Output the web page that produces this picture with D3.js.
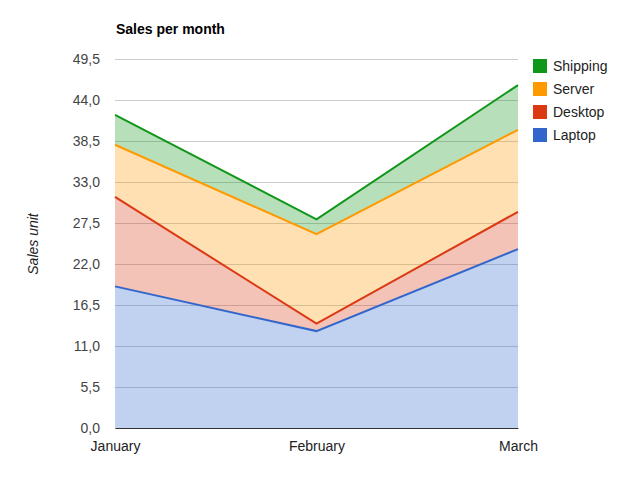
<!DOCTYPE html>
<html lang="en">
  <head>
    <meta charset="UTF-8" />
    <title>Sales per month</title>
    <style>
      body { margin: 0; background: #fff; }
      text { font-family: Arial, "Liberation Sans", sans-serif; }
    </style>
  </head>
  <body>
    <svg id="svg" width="630" height="479"></svg>

    <script src="https://cdn.jsdelivr.net/npm/d3@7"></script>
    <script>
      const months = ["January", "February", "March"];
      const laptop = [19, 13, 24];
      const desktop = [12, 1, 5];
      const server = [7, 12, 11];
      const shipping = [4, 2, 6];
      const seriesNames = ["Laptop", "Desktop", "Server", "Shipping"];
      const colors = ["#3366cc", "#dc3912", "#ff9900", "#109618"];
      const yTicks = [0, 5.5, 11, 16.5, 22, 27.5, 33, 38.5, 44, 49.5];

      const MARGIN = { top: 59, right: 112, bottom: 51, left: 115 };
      const WIDTH = 630 - MARGIN.left - MARGIN.right;
      const HEIGHT = 479 - MARGIN.top - MARGIN.bottom;

      const rows = months.map((m, i) => ({
        month: m,
        Laptop: laptop[i],
        Desktop: desktop[i],
        Server: server[i],
        Shipping: shipping[i],
      }));
      const stacked = d3.stack().keys(seriesNames)(rows);

      const xScale = d3.scalePoint().domain(months).range([0, WIDTH]);
      const yScale = d3.scaleLinear().domain([0, 49.5]).range([HEIGHT, 0]);

      const svg = d3.select("#svg");
      const g = svg
        .append("g")
        .attr("transform", `translate(${MARGIN.left}, ${MARGIN.top})`);

      // gridlines + y labels
      const leftAxis = d3
        .axisLeft(yScale)
        .tickValues(yTicks)
        .tickSize(-WIDTH)
        .tickPadding(15)
        .tickFormat((d) => d3.format(".1f")(d).replace(".", ","));
      const yAxisG = g.append("g").call(leftAxis);
      yAxisG.select(".domain").remove();
      yAxisG.selectAll("line").attr("stroke", "#cccccc");
      yAxisG
        .selectAll("text")
        .attr("fill", "#444")
        .style("font-size", "14px");

      const area = d3
        .area()
        .x((d) => xScale(d.data.month))
        .y0((d) => yScale(d[0]))
        .y1((d) => yScale(d[1]));
      const line = d3
        .line()
        .x((d) => xScale(d.data.month))
        .y((d) => yScale(d[1]));

      g.selectAll(".area")
        .data(stacked)
        .enter()
        .append("path")
        .attr("class", "area")
        .attr("d", area)
        .attr("fill", (d, i) => colors[i])
        .attr("fill-opacity", 0.3);

      g.selectAll(".line")
        .data(stacked)
        .enter()
        .append("path")
        .attr("class", "line")
        .attr("d", line)
        .attr("fill", "none")
        .attr("stroke", (d, i) => colors[i])
        .attr("stroke-width", 2);

      // baseline + x labels
      const bottomAxis = d3.axisBottom(xScale).tickSize(0).tickPadding(13);
      const xAxisG = g
        .append("g")
        .attr("transform", `translate(0, ${HEIGHT})`)
        .call(bottomAxis);
      xAxisG.select(".domain").attr("stroke", "#333").attr("stroke-width", 1);
      xAxisG
        .selectAll("text")
        .attr("fill", "#222")
        .style("font-size", "14px");

      // title
      svg
        .append("text")
        .attr("x", 116)
        .attr("y", 34)
        .attr("font-weight", "bold")
        .style("font-size", "14px")
        .attr("fill", "#000")
        .text("Sales per month");

      // y axis title
      svg
        .append("text")
        .attr("transform", "translate(38, 244) rotate(-90)")
        .attr("text-anchor", "middle")
        .attr("font-style", "italic")
        .style("font-size", "14px")
        .attr("fill", "#222")
        .text("Sales unit");

      // legend, top series first
      const legend = svg
        .append("g")
        .attr("transform", "translate(533, 59)")
        .selectAll("g")
        .data(seriesNames.slice().reverse())
        .enter()
        .append("g")
        .attr("transform", (d, i) => `translate(0, ${i * 23})`);
      legend
        .append("rect")
        .attr("width", 14)
        .attr("height", 14)
        .attr("fill", (d) => colors[seriesNames.indexOf(d)]);
      legend
        .append("text")
        .attr("x", 20)
        .attr("y", 12)
        .style("font-size", "14px")
        .attr("fill", "#222")
        .text((d) => d);
    </script>
  </body>
</html>
